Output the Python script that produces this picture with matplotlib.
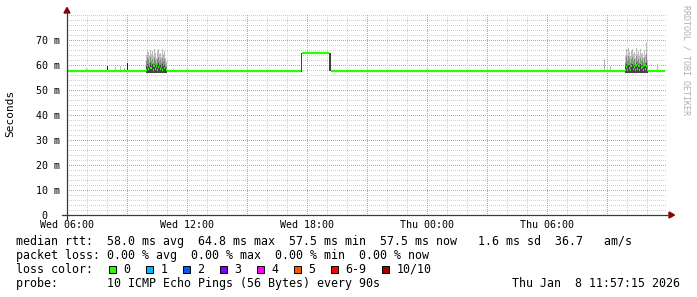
import matplotlib
matplotlib.use("Agg")
import matplotlib.pyplot as plt
from matplotlib.patches import Rectangle, Polygon
from matplotlib.lines import Line2D
import numpy as np

W, H, DPI = 697, 297, 100
MONO = "DejaVu Sans Mono"

# ---------------- data ----------------
# time axis: hours after Wed 06:00
x_tick_hours = [0, 6, 12, 18, 24]
x_tick_labels = ["Wed 06:00", "Wed 12:00", "Wed 18:00", "Thu 00:00", "Thu 06:00"]
y_tick_values = [0, 10, 20, 30, 40, 50, 60, 70]
y_tick_labels = ["0  ", "10 m", "20 m", "30 m", "40 m", "50 m", "60 m", "70 m"]

# steady median rtt segments (start hour, end hour, ms)
median_seg_start = [0.0, 5.0, 11.75, 13.2, 29.05]
median_seg_end = [3.95, 11.7, 13.1, 27.9, 29.9]
median_seg_ms = [57.5, 57.5, 64.8, 57.5, 57.5]

# smoke burst 1 (Wed ~10:00-11:00)
burst1_hours = [3.95, 4.0, 4.05, 4.1, 4.15, 4.2, 4.25, 4.3, 4.35, 4.4, 4.45,
                4.5, 4.55, 4.6, 4.65, 4.7, 4.75, 4.8, 4.85, 4.9, 4.95]
burst1_max = [64.0, 66.5, 65.2, 63.8, 66.0, 64.5, 65.8, 63.5, 66.3, 64.8, 62.8,
              65.5, 66.6, 64.2, 65.0, 63.4, 66.2, 64.6, 65.4, 63.0, 61.5]
burst1_mid = [61.5, 63.0, 62.5, 61.0, 63.2, 61.8, 62.6, 60.8, 63.0, 62.0, 60.5,
              62.4, 63.3, 61.6, 62.2, 60.9, 63.0, 61.8, 62.3, 60.6, 59.8]
burst1_low = [59.6, 60.6, 60.2, 59.4, 60.8, 59.8, 60.4, 59.2, 60.6, 60.0, 59.0,
              60.2, 60.8, 59.6, 60.0, 59.3, 60.5, 59.8, 60.1, 59.1, 58.6]
burst1_median = [58.0, 59.6, 58.4, 60.2, 58.8, 59.0, 61.0, 58.2, 59.8, 58.6, 60.4,
                 58.0, 59.4, 60.8, 58.4, 59.2, 58.0, 60.0, 58.8, 59.6, 58.0]

# smoke burst 2 (Thu ~10:00-11:00)
burst2_hours = [27.9, 27.95, 28.0, 28.05, 28.1, 28.15, 28.2, 28.25, 28.3, 28.35,
                28.4, 28.45, 28.5, 28.55, 28.6, 28.65, 28.7, 28.75, 28.8, 28.85,
                28.9, 28.95, 29.0]
burst2_max = [63.5, 66.3, 64.0, 67.0, 65.2, 63.8, 65.7, 66.5, 64.2, 65.2, 63.0,
              66.7, 64.6, 65.5, 63.6, 66.3, 64.4, 65.0, 63.2, 66.0, 64.0, 69.3, 62.0]
burst2_mid = [61.0, 63.2, 61.5, 63.8, 62.4, 61.0, 62.6, 63.3, 61.6, 62.4, 60.6,
              63.5, 61.8, 62.6, 61.0, 63.0, 61.7, 62.2, 60.8, 62.8, 61.4, 64.5, 60.0]
burst2_low = [59.5, 60.6, 59.8, 61.0, 60.2, 59.4, 60.3, 60.8, 59.7, 60.2, 59.2,
              60.9, 59.9, 60.4, 59.3, 60.6, 59.8, 60.1, 59.2, 60.5, 59.6, 61.0, 58.6]
burst2_median = [58.0, 59.4, 58.2, 60.6, 59.0, 58.0, 59.8, 61.0, 58.4, 59.2, 58.0,
                 60.2, 58.6, 59.6, 58.0, 60.8, 58.8, 59.4, 58.0, 60.0, 58.6, 59.8, 58.0]
smoke_floor_ms = 57.0

# level changes (smoke columns between the two median levels)
trans_hours = [11.7, 13.1]
trans_low = [57.3, 57.8]
trans_high = [64.8, 64.8]

# small isolated spikes
spike_hours = [0.95, 2.0, 2.4, 2.65, 2.85, 3.0, 5.3, 7.5, 26.85, 27.15, 29.5]
spike_max = [58.6, 59.6, 59.2, 59.8, 59.0, 60.8, 58.4, 58.3, 62.3, 59.5, 60.5]
spike_dark = [False, True, False, False, False, True, False, False, False, False, False]

# legend
stats_line = "median rtt:  58.0 ms avg  64.8 ms max  57.5 ms min  57.5 ms now   1.6 ms sd  36.7   am/s"
loss_line = "packet loss: 0.00 % avg  0.00 % max  0.00 % min  0.00 % now"
loss_labels = ["0", "1", "2", "3", "4", "5", "6-9", "10/10"]
loss_colors = ["#26ff00", "#00b8ff", "#0059ff", "#7e00ff", "#ff00ff", "#ff5500", "#ff0000", "#a10000"]
probe_line = "probe:       10 ICMP Echo Pings (56 Bytes) every 90s"
date_text = "Thu Jan  8 11:57:15 2026"

# ---------------- figure ----------------
fig = plt.figure(figsize=(W / DPI, H / DPI), dpi=DPI)
fig.patch.set_facecolor("white")

def fx(px):
    return px / W

def fy(py):
    return 1 - py / H

AXW, AXH = 600, 200
XMAX, YMAX = 30, 80
ax = fig.add_axes([fx(67), fy(215), AXW / W, AXH / H])
ax.set_xlim(0, XMAX)
ax.set_ylim(0, YMAX)
for s in ax.spines.values():
    s.set_visible(False)

# grid as a pixel image: dotted (1 px on / 1 px off)
minor_c = np.array([208, 208, 208], dtype=np.uint8)
major_c = np.array([240, 140, 140], dtype=np.uint8)
grid = np.full((AXH, AXW, 3), 255, dtype=np.uint8)
for v in range(2, 81, 2):
    row = int(round(AXH - v * AXH / YMAX))
    row = min(max(row, 0), AXH - 1)
    col = major_c if (v % 10 == 0 and v < 80) else minor_c
    grid[row, 0::2] = col
for h in range(1, 30):
    c = int(round(h * AXW / XMAX))
    col = major_c if h % 3 == 0 else minor_c
    grid[0::2, c] = col
ax.imshow(grid, extent=(0, XMAX, 0, YMAX), aspect="auto",
          interpolation="none", zorder=0)
ax.set_xlim(0, XMAX)
ax.set_ylim(0, YMAX)

# smoke
def smoke(hours, mx, mid, low, width):
    for hh, a, b, c in zip(hours, mx, mid, low):
        ax.bar(hh, a - smoke_floor_ms, bottom=smoke_floor_ms, width=width,
               align="edge", color="#bcbcbc", lw=0, zorder=2)
        ax.bar(hh, b - smoke_floor_ms, bottom=smoke_floor_ms, width=width,
               align="edge", color="#888888", lw=0, zorder=2)
        ax.bar(hh, c - smoke_floor_ms, bottom=smoke_floor_ms, width=width,
               align="edge", color="#454545", lw=0, zorder=2)

smoke(burst1_hours, burst1_max, burst1_mid, burst1_low, 0.05)
smoke(burst2_hours, burst2_max, burst2_mid, burst2_low, 0.05)

for hh, lo, hi, wd in zip(trans_hours, trans_low, trans_high, [0.05, 0.1]):
    ax.bar(hh, hi - lo, bottom=lo, width=wd, align="edge",
           color="#404040", lw=0, zorder=2)

for hh, mx, dk in zip(spike_hours, spike_max, spike_dark):
    ax.bar(hh, mx - 57.3, bottom=57.3, width=0.05, align="edge",
           color="#202020" if dk else "#b8b8b8", lw=0, zorder=2)

# median
green = "#26ff00"
ax.hlines(median_seg_ms, median_seg_start, median_seg_end, colors=green,
          lw=1.6, zorder=3, capstyle="butt")
for hours, med in ((burst1_hours, burst1_median), (burst2_hours, burst2_median)):
    ax.hlines(med, hours, [h + 0.05 for h in hours], colors=green, lw=1.6,
              zorder=3, capstyle="butt")

# ticks
ax.set_xticks(x_tick_hours, x_tick_labels)
ax.set_yticks(y_tick_values, y_tick_labels)
ax.tick_params(axis="both", length=0, labelsize=7.2, colors="black")
ax.tick_params(axis="y", pad=5.2)
ax.tick_params(axis="x", pad=3.8)
for lab in ax.get_xticklabels() + ax.get_yticklabels():
    lab.set_fontfamily(MONO)

# axes lines + arrows
axis_col = "#3a3a3a"
arrow_col = "#8b0000"
fig.add_artist(Line2D([fx(62), fx(669)], [fy(215), fy(215)], color=axis_col,
                      lw=0.9, transform=fig.transFigure))
fig.add_artist(Line2D([fx(67), fx(67)], [fy(219), fy(12)], color=axis_col,
                      lw=0.9, transform=fig.transFigure))
fig.add_artist(Polygon([[fx(669), fy(212)], [fx(674.5), fy(215)], [fx(669), fy(218)]],
                       closed=True, color=arrow_col, transform=fig.transFigure))
fig.add_artist(Polygon([[fx(64), fy(13)], [fx(67), fy(7.5)], [fx(70), fy(13)]],
                       closed=True, color=arrow_col, transform=fig.transFigure))

# labels
fig.text(fx(10), fy(113), "Seconds", rotation=90, ha="center", va="center",
         family=MONO, fontsize=8)
fig.text(fx(686), fy(60), "RRDTOOL / TOBI OETIKER", rotation=270, ha="center",
         va="center", family=MONO, fontsize=6, color="#b0b0b0")

# legend text
fs = 8.4
fig.text(fx(16), fy(245), stats_line, family=MONO, fontsize=fs, va="baseline")
fig.text(fx(16), fy(259), loss_line, family=MONO, fontsize=fs, va="baseline")
fig.text(fx(16), fy(273), "loss color:", family=MONO, fontsize=fs, va="baseline")
fig.text(fx(16), fy(287), probe_line, family=MONO, fontsize=fs, va="baseline")
fig.text(fx(680), fy(287), date_text, family=MONO, fontsize=fs, va="baseline",
         ha="right")

bx = 108.7
for lab, col in zip(loss_labels, loss_colors):
    fig.add_artist(Rectangle((fx(bx), fy(273)), 7.5 / W, 7.5 / H, facecolor=col,
                             edgecolor="black", lw=0.7, transform=fig.transFigure))
    fig.text(fx(bx + 14.5), fy(273), lab, family=MONO, fontsize=fs, va="baseline")
    bx += 14.5 + 7.0 * len(lab) + 15.5

fig.savefig("out.png", dpi=DPI, facecolor="white")
